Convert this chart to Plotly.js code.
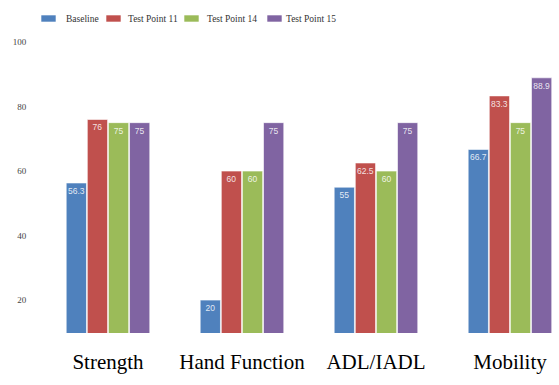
<!DOCTYPE html>
<html>
<head>
<meta charset="utf-8">
<script src="https://cdn.plot.ly/plotly-3.0.1.min.js"></script>
<style>html,body{margin:0;padding:0;background:#fff;}#chart{width:559px;height:385px;}</style>
</head>
<body>
<div id="chart"></div>
<script>
const categories = ["Strength", "Hand Function", "ADL/IADL", "Mobility"];
const seriesNames = ["Baseline", "Test Point 11", "Test Point 14", "Test Point 15"];
const baseline = [56.3, 20, 55, 66.7];
const testPoint11 = [76, 60, 62.5, 83.3];
const testPoint14 = [75, 60, 60, 75];
const testPoint15 = [75, 75, 75, 88.9];
const yTicks = [20, 40, 60, 80, 100];
const colors = ["#4F81BD", "#C0504D", "#9BBB59", "#8064A2"];

const W = 559, H = 385;
const M = {l: 41, r: 0, t: 42, b: 52};
const plotW = W - M.l - M.r, plotH = H - M.t - M.b;
const px = x => (x - M.l) / plotW;
const py = y => (H - M.b - y) / plotH;

const seriesValues = [baseline, testPoint11, testPoint14, testPoint15];
const traces = seriesValues.map((vals, i) => ({
  type: "bar",
  name: seriesNames[i],
  x: categories,
  y: vals,
  text: vals.map(v => String(v)),
  textposition: "inside",
  insidetextanchor: "end",
  textangle: 0,
  textfont: {family: "Liberation Sans, Arial, sans-serif", size: 8.5, color: "rgba(255,255,255,0.85)"},
  marker: {color: colors[i], line: {color: "rgba(255,255,255,0.6)", width: 1}},
  hoverinfo: "none",
  showlegend: false
}));

// legend drawn in the page's top strip (positions in pixels)
const legendSwatchX = [41, 106, 184, 267];
const legendTextX = [64, 126, 205, 284];
const shapes = seriesNames.map((n, i) => ({
  type: "rect", xref: "paper", yref: "paper",
  x0: px(legendSwatchX[i]), x1: px(legendSwatchX[i] + 15),
  y0: py(22), y1: py(15),
  fillcolor: colors[i], line: {color: "rgba(255,255,255,0.6)", width: 1}
}));
const annotations = seriesNames.map((n, i) => ({
  text: n, xref: "paper", yref: "paper",
  x: px(legendTextX[i]), y: py(19), xanchor: "left", yanchor: "middle",
  showarrow: false,
  font: {family: "Liberation Serif, Times New Roman, serif", size: 9.5, color: "#333"}
}));

const layout = {
  width: W, height: H,
  margin: M,
  paper_bgcolor: "#fff", plot_bgcolor: "#fff",
  barmode: "group",
  bargap: 0.37,
  bargroupgap: 0.04,
  uniformtext: {mode: "show", minsize: 8.5},
  showlegend: false,
  shapes: shapes,
  annotations: annotations,
  xaxis: {
    type: "category",
    range: [-0.5, 3.366],
    showline: false, showgrid: false, zeroline: false,
    ticks: "outside", ticklen: 10, tickcolor: "rgba(0,0,0,0)",
    tickfont: {family: "Liberation Serif, Times New Roman, serif", size: 21, color: "#000"}
  },
  yaxis: {
    range: [9.8, 100],
    tickvals: yTicks,
    showline: false, showgrid: false, zeroline: false,
    ticks: "outside", ticklen: 12, tickcolor: "rgba(0,0,0,0)",
    tickfont: {family: "Liberation Serif, Times New Roman, serif", size: 9, color: "#444"}
  }
};

Plotly.newPlot("chart", traces, layout, {displayModeBar: false, staticPlot: true});
</script>
</body>
</html>
